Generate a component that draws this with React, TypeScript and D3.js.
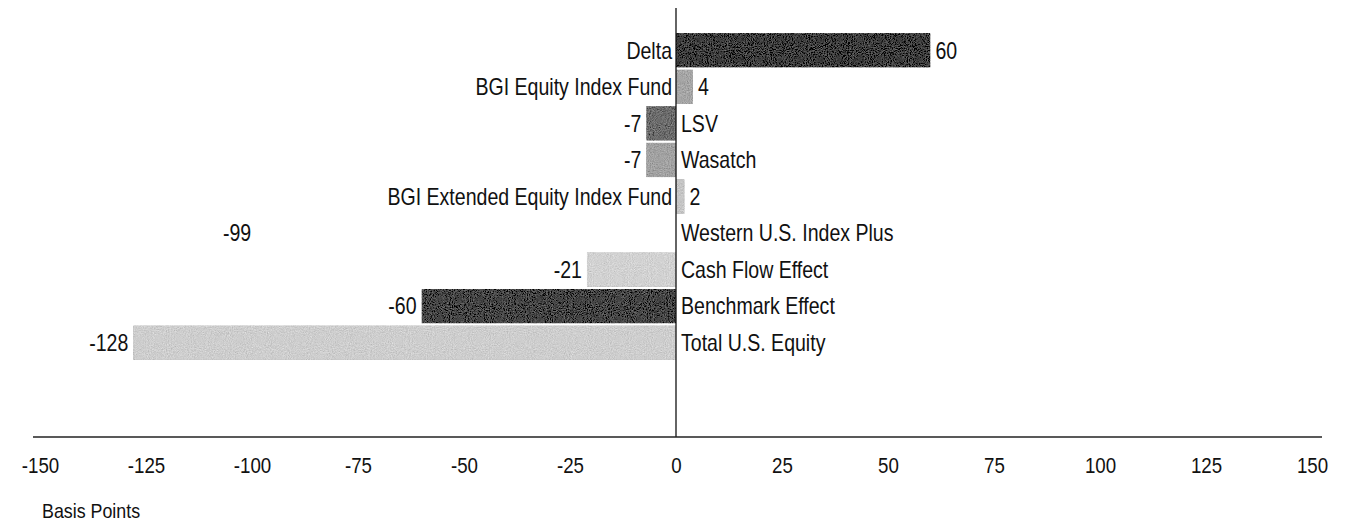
import React, { useEffect, useRef } from 'react';
import * as d3 from 'd3';

const categories = [
  'Delta',
  'BGI Equity Index Fund',
  'LSV',
  'Wasatch',
  'BGI Extended Equity Index Fund',
  'Western U.S. Index Plus',
  'Cash Flow Effect',
  'Benchmark Effect',
  'Total U.S. Equity',
];
const values = [60, 4, -7, -7, 2, -99, -21, -60, -128];
const fills = ['#3e3e3e', '#a6a6a6', '#6c6c6c', '#a2a2a2', '#c6c6c6', 'none', '#d2d2d2', '#464646', '#cecece'];
const ticks = [-150, -125, -100, -75, -50, -25, 0, 25, 50, 75, 100, 125, 150];

// no narrow font installed, so squeeze Liberation Sans horizontally
const FONT = '"Liberation Sans", Arial, sans-serif';
const SQUEEZE = 0.85;

const App: React.FC = () => {
  const ref = useRef<SVGSVGElement>(null);

  useEffect(() => {
    if (!ref.current) return;
    const width = 1351;
    const height = 529;
    const svg = d3.select(ref.current);
    svg.selectAll('*').remove();
    svg.attr('width', width).attr('height', height);

    // grain so the bars look like the scanned halftone
    const defs = svg.append('defs');
    const f = defs.append('filter').attr('id', 'grain').attr('x', 0).attr('y', 0).attr('width', 1).attr('height', 1);
    f.append('feTurbulence').attr('type', 'fractalNoise').attr('baseFrequency', 0.95).attr('numOctaves', 2).attr('seed', 3).attr('result', 'n');
    f.append('feColorMatrix').attr('in', 'n').attr('type', 'matrix')
      .attr('values', '0.33 0.33 0.33 0 0  0.33 0.33 0.33 0 0  0.33 0.33 0.33 0 0  0 0 0 0 1')
      .attr('result', 'g');
    f.append('feComposite').attr('in', 'SourceGraphic').attr('in2', 'g').attr('operator', 'arithmetic')
      .attr('k1', 0).attr('k2', 1).attr('k3', 0.6).attr('k4', -0.3).attr('result', 'm');
    f.append('feComposite').attr('in', 'm').attr('in2', 'SourceAlpha').attr('operator', 'in');

    const x = d3.scaleLinear().domain([-150, 150]).range([40, 1312]);
    const y = d3.scaleBand<string>().domain(categories).range([32, 361]).paddingInner(0.06).paddingOuter(0.03);

    const data = categories.map((c, i) => ({ name: c, value: values[i], fill: fills[i] }));
    const midY = (d: { name: string }) => y(d.name)! + y.bandwidth() / 2;

    svg.append('g')
      .selectAll('rect')
      .data(data)
      .join('rect')
      .attr('x', d => x(Math.min(0, d.value)))
      .attr('y', d => y(d.name)!)
      .attr('width', d => Math.abs(x(d.value) - x(0)))
      .attr('height', y.bandwidth())
      .attr('fill', d => d.fill)
      .attr('filter', d => (d.fill === 'none' ? null : 'url(#grain)'));

    // zero line
    svg.append('line')
      .attr('x1', x(0)).attr('x2', x(0))
      .attr('y1', 8).attr('y2', 437)
      .attr('stroke', '#111').attr('stroke-width', 1.3);

    // category names, on the side opposite the bar
    svg.append('g')
      .selectAll('text')
      .data(data)
      .join('text')
      .attr('transform', d => `translate(${d.value >= 0 ? x(0) - 4 : x(0) + 5},${midY(d)}) scale(${SQUEEZE},1)`)
      .attr('dy', '0.36em')
      .attr('text-anchor', d => (d.value >= 0 ? 'end' : 'start'))
      .attr('font-family', FONT)
      .attr('font-size', 23)
      .attr('fill', '#111')
      .text(d => d.name);

    // value labels at the bar end
    svg.append('g')
      .selectAll('text')
      .data(data)
      .join('text')
      .attr('transform', d => `translate(${d.value >= 0 ? x(d.value) + 5 : x(d.value) - 5},${midY(d)}) scale(${SQUEEZE},1)`)
      .attr('dy', '0.36em')
      .attr('text-anchor', d => (d.value >= 0 ? 'start' : 'end'))
      .attr('font-family', FONT)
      .attr('font-size', 23)
      .attr('fill', '#111')
      .text(d => String(d.value));

    // x axis
    const axis = svg.append('g')
      .attr('transform', 'translate(0,437)')
      .call(d3.axisBottom(x).tickValues(ticks).tickSize(0).tickPadding(20).tickFormat(d => String(d)));
    axis.select('.domain').remove();
    axis.selectAll('text')
      .attr('font-family', FONT)
      .attr('font-size', 22)
      .attr('fill', '#111')
      .attr('transform', `scale(${SQUEEZE},1)`);

    svg.append('line')
      .attr('x1', 33).attr('x2', 1322)
      .attr('y1', 437).attr('y2', 437)
      .attr('stroke', '#222').attr('stroke-width', 1.5);

    svg.append('text')
      .attr('transform', `translate(42,518) scale(${SQUEEZE},1)`)
      .attr('font-family', FONT)
      .attr('font-size', 21)
      .attr('fill', '#111')
      .text('Basis Points');
  }, []);

  return <svg ref={ref} style={{ position: 'absolute', left: 0, top: 0 }} />;
};

export default App;
